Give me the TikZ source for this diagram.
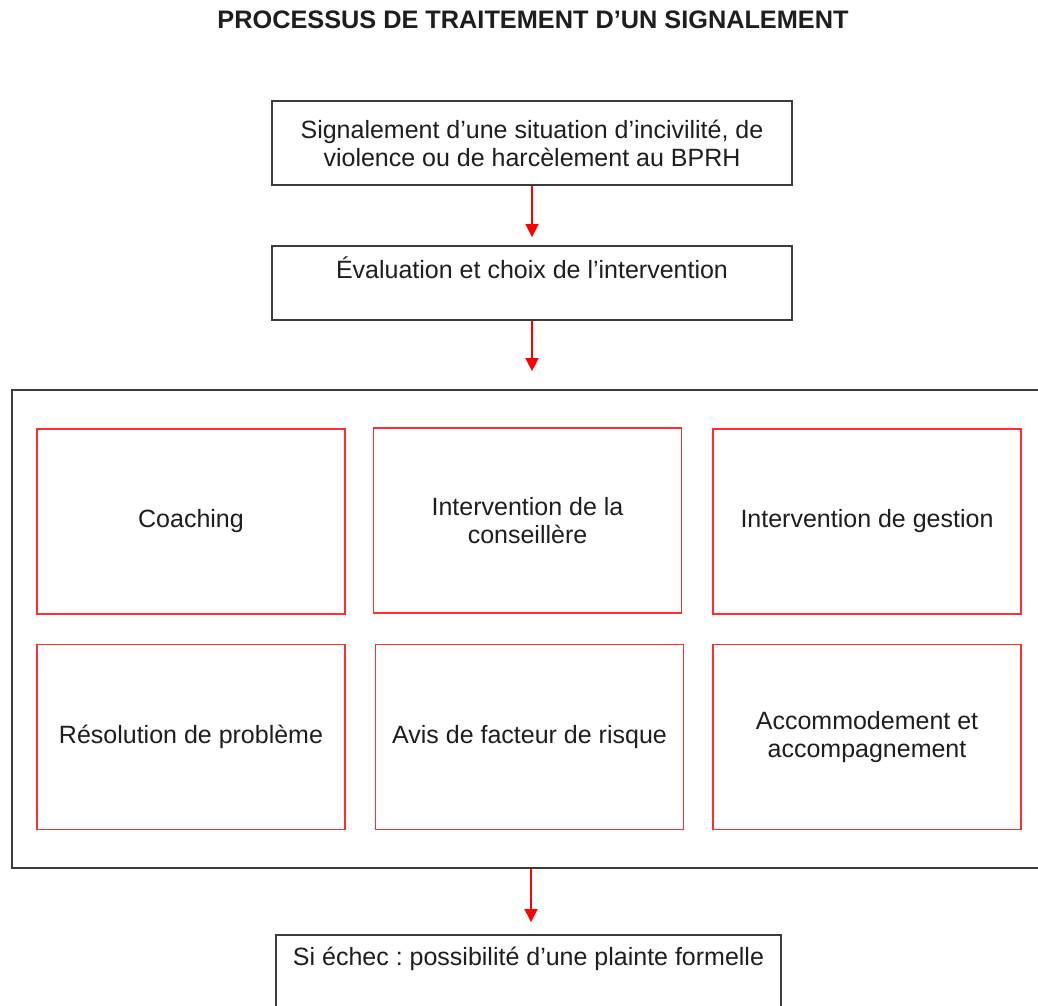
\documentclass[tikz,border=0pt]{standalone}
\usepackage{fontspec}
\setmainfont{Liberation Sans}
\usetikzlibrary{arrows.meta}
\definecolor{boxred}{RGB}{255,45,45}
\definecolor{boxgray}{RGB}{60,60,60}
\definecolor{txt}{RGB}{30,30,30}
\frenchspacing
\begin{document}
\begin{tikzpicture}[x=1pt,y=-1pt,
  every node/.style={font=\fontsize{25}{28}\selectfont, text=txt},
  titlestyle/.style={font=\bfseries\fontsize{25.3}{28}\selectfont, inner sep=0pt},
  blackbox/.style={draw=boxgray, line width=1.8pt, align=center},
  redbox/.style={draw=boxred, line width=1.8pt, align=center, minimum width=308pt, minimum height=185pt},
  redarrow/.style={draw=red, line width=1.6pt, -{Triangle[length=13pt,width=13pt]}}]
\useasboundingbox (0,0) rectangle (1038,1005);
\clip (0,0) rectangle (1038,1005);
\fill[white] (0,0) rectangle (1038,1005);

\node[titlestyle] (title) at (533,20) {PROCESSUS DE TRAITEMENT D’UN SIGNALEMENT};

\node[blackbox, minimum width=520pt, minimum height=84pt] (b1) at (532,143)
  {Signalement d’une situation d’incivilité, de\\violence ou de harcèlement au BPRH};
\node[blackbox, minimum width=520pt, minimum height=74pt] (b2) at (532,283)
  {Évaluation et choix de l’intervention\\[-6pt]\strut};

\node[draw=boxgray, line width=1.8pt, minimum width=1038pt, minimum height=478pt] (group) at (531,629) {};

\node[redbox] (r1) at (191,521.5) {Coaching};
\node[redbox] (r2) at (527.5,520.5) {Intervention de la\\conseillère};
\node[redbox] (r3) at (867,521.5) {Intervention de gestion};
\node[redbox] (r4) at (191,737) {Résolution de problème};
\node[redbox] (r5) at (529.5,737) {Avis de facteur de risque};
\node[redbox] (r6) at (867,737) {Accommodement et\\accompagnement};

\node[blackbox, anchor=north, minimum width=505pt, inner ysep=12pt] (b3) at (528.5,934)
  {Si échec : possibilité d’une plainte formelle\\\strut\\\strut};

\draw[redarrow, shorten >=8pt] (b1.south) -- (b1.south |- b2.north);
\draw[redarrow, shorten >=18pt] (b1.south |- b2.south) -- (b1.south |- group.north);
\draw[redarrow, shorten >=12pt] (group.south) -- (group.south |- b3.north);
\end{tikzpicture}
\end{document}
